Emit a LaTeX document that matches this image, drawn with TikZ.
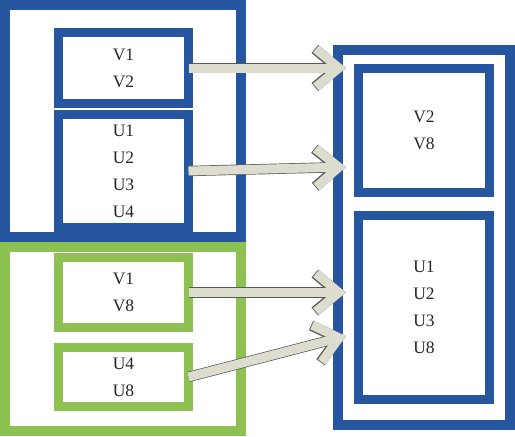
\documentclass[tikz,border=0pt]{standalone}
\usepackage{fontspec}
\setmainfont{Liberation Serif}
\usetikzlibrary{arrows.meta}

\definecolor{setblue}{RGB}{39,86,161}
\definecolor{setgreen}{RGB}{141,194,82}
\definecolor{flowfill}{RGB}{220,220,207}
\definecolor{flowedge}{RGB}{90,90,85}

\begin{document}
\begin{tikzpicture}[
    x=1pt, y=-1pt,
    frame/.style={rectangle, line width=10pt, inner sep=0pt, outer sep=0pt},
    group/.style={rectangle, line width=9pt, inner sep=0pt, outer sep=0pt, align=center, text=black!85, font=\fontsize{17.5}{27}\selectfont},
    flow/.style={draw=flowfill, line width=9pt, -{Straight Barb[sharp, length=23pt, width=38pt]},
        preaction={draw=flowedge, line width=10.4pt, -{Straight Barb[sharp, length=23pt, width=38pt]}}}
]
    \useasboundingbox (0,0) rectangle (515,437);

    % left side: two sets
    \node[frame, draw=setblue, minimum width=236pt, minimum height=232pt] (lblue) at (123,121) {};
    \node[frame, draw=setgreen, minimum width=236pt, minimum height=184pt] (lgreen) at (123,339) {};

    \node[group, draw=setblue, minimum width=130pt, minimum height=71pt] (v12) at (123.5,68) {V1\\V2};
    \node[group, draw=setblue, minimum width=130pt, minimum height=113pt] (u14) at (123.5,171) {U1\\U2\\U3\\U4};
    \node[group, draw=setgreen, minimum width=130pt, minimum height=70pt] (v18) at (123.5,292.5) {V1\\V8};
    \node[group, draw=setgreen, minimum width=130pt, minimum height=59pt] (u48) at (123.5,377) {U4\\U8};

    % right side: merged set
    \node[frame, draw=setblue, minimum width=172pt, minimum height=375pt] (rout) at (424,237.5) {};
    \node[group, draw=setblue, minimum width=131pt, minimum height=124pt] (v28) at (424,130.5) {V2\\V8};
    \node[group, draw=setblue, minimum width=131pt, minimum height=184pt] (u18) at (424,307.5) {U1\\U2\\U3\\U8};

    \draw[flow] (v12.east) -- ([xshift=8pt]v12.east -| rout.west);
    \draw[flow] (u14.east) -- ([shift={(8,-4)}]u14.east -| rout.west);
    \draw[flow] (v18.east) -- ([xshift=8pt]v18.east -| rout.west);
    \draw[flow] (u48.east) -- ([shift={(8,-41)}]u48.east -| rout.west);
\end{tikzpicture}
\end{document}
